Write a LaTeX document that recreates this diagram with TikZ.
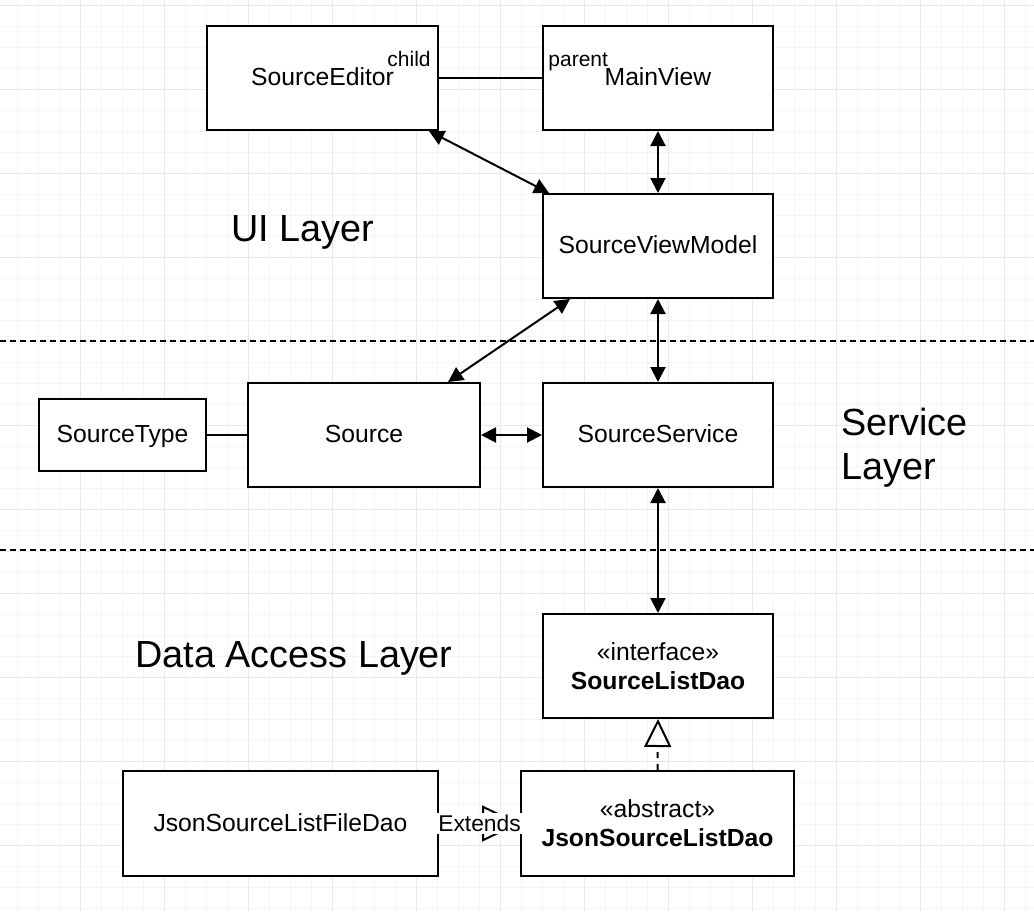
\documentclass[tikz,border=0pt]{standalone}
\usepackage{fontspec}
\setmainfont{Liberation Sans}
\usetikzlibrary{arrows.meta}
\definecolor{gridmajor}{HTML}{E8E8E8}
\definecolor{gridminor}{HTML}{F5F5F5}

\begin{document}
\begin{tikzpicture}[x=0.5pt, y=-0.5pt,
    boxbase/.style={draw, fill=white, line width=1pt, minimum width=115pt, minimum height=52pt, inner sep=2pt, align=center, font=\fontsize{12.35}{14.5}\selectfont},
    classbox/.style={boxbase, text height=0.96em, text depth=0.2em},
    assoc/.style={line width=1pt},
    biarrow/.style={line width=1pt, {Triangle[length=7.5pt,width=7.5pt]}-{Triangle[length=7.5pt,width=7.5pt]}},
    realize/.style={line width=1pt, dash pattern=on 3pt off 3pt, -{Triangle[open,length=14pt,width=13.5pt]}},
    extends/.style={realize, -{Triangle[open,length=19pt,width=18pt]}},
    layerline/.style={line width=1pt, dash pattern=on 3pt off 2pt},
    layertext/.style={font=\fontsize{18.9}{22.2}\selectfont, inner sep=0pt},
    endlabel/.style={font=\fontsize{10.5}{12}\selectfont, inner sep=0pt}]
    \useasboundingbox (0,0) rectangle (1034,911);

    % background grid
    \begin{scope}
      \clip (0,0) rectangle (1034,911);
      \foreach \gx in {-4,17,...,1034} \draw[gridminor, line width=0.5pt] (\gx,0) -- (\gx,911);
      \foreach \gy in {5,26,...,911} \draw[gridminor, line width=0.5pt] (0,\gy) -- (1034,\gy);
      \foreach \gx in {80,164,...,1034} \draw[gridmajor, line width=0.5pt] (\gx,0) -- (\gx,911);
      \foreach \gy in {5,89,...,911} \draw[gridmajor, line width=0.5pt] (0,\gy) -- (1034,\gy);
    \end{scope}

    % layer separators
    \draw[layerline] (0,341) -- (1034,341);
    \draw[layerline] (0,550) -- (1034,550);

    \node[layertext] (uilayer) at (303,232) {UI Layer};
    \node[layertext, align=left, anchor=west] (servicelayer) at (841,448) {Service\\Layer};
    \node[layertext] (datalayer) at (294,658) {Data Access Layer};

    % classes
    \node[classbox, minimum width=115.5pt] (editor) at (322.5,78) {SourceEditor};
    \node[classbox] (mainview) at (658,78) {MainView};
    \node[classbox] (viewmodel) at (658,246) {SourceViewModel};
    \node[classbox, minimum width=116pt] (source) at (364,435) {Source};
    \node[classbox] (service) at (658,435) {SourceService};
    \node[classbox, minimum width=83.5pt, minimum height=36pt] (srctype) at (122.5,435) {SourceType};
    \node[boxbase] (listdao) at (658,666) {«interface»\\\textbf{SourceListDao}};
    \node[classbox, minimum width=157.5pt, minimum height=52.5pt] (filedao) at (280.5,823.5) {JsonSourceListFileDao};
    \node[boxbase, minimum width=136.5pt, minimum height=52.5pt] (jsondao) at (657.5,823.5) {«abstract»\\\textbf{JsonSourceListDao}};

    % connectors
    \draw[assoc] (editor) -- (mainview);
    \node[endlabel, anchor=base east] (childlbl) at (431,66) {child};
    \node[endlabel, anchor=base west] (parentlbl) at (548,66) {parent};
    \draw[biarrow] ([xshift=-5pt]editor.south east) -- ([xshift=3.5pt]viewmodel.north west);
    \draw[biarrow] (mainview) -- (viewmodel);
    \draw[biarrow] ([xshift=14pt]viewmodel.south west) -- ([xshift=-16.5pt]source.north east);
    \draw[biarrow] (viewmodel) -- (service);
    \draw[assoc] (srctype) -- (source);
    \draw[biarrow] (source) -- (service);
    \draw[biarrow] (service) -- (listdao);
    \draw[realize] (jsondao.north) -- (listdao.south);
    \draw[extends] (filedao.east) -- (jsondao.west)
      node[midway, fill=white, inner sep=1pt, font=\fontsize{11.4}{13}\selectfont] (extendslbl) {Extends};
  \end{tikzpicture}
\end{document}
